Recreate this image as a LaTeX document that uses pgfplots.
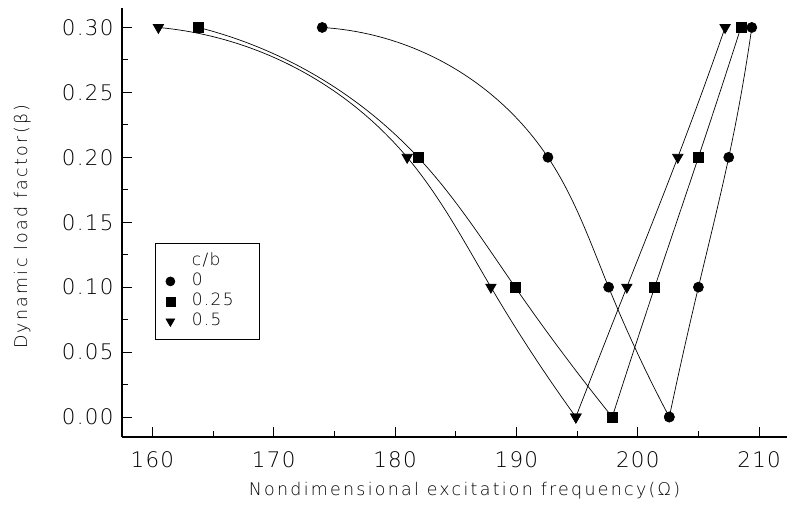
\documentclass[border=0pt]{standalone}
\usepackage{pgfplots}
\pgfplotsset{compat=1.18}
\usetikzlibrary{hobby}
\usepackage{fontspec}
\setmainfont{DejaVu Sans}[UprightFont=* ExtraLight, LetterSpace=13]
\newfontfamily\tickfont{DejaVu Sans}[UprightFont=* ExtraLight, LetterSpace=6]
\newfontfamily\legfont{DejaVu Sans}[UprightFont=* ExtraLight, LetterSpace=8]

% Resonance boundaries for three crack ratios c/b
\pgfplotstableread{
x y
174.0 0.30
192.6 0.20
197.6 0.10
202.6 0.00
}\cbzeroL
\pgfplotstableread{
x y
202.6 0.00
205.0 0.10
207.5 0.20
209.4 0.30
}\cbzeroR
\pgfplotstableread{
x y
163.8 0.30
181.9 0.20
189.9 0.10
197.9 0.00
}\cbquarterL
\pgfplotstableread{
x y
197.9 0.00
201.4 0.10
205.0 0.20
208.5 0.30
}\cbquarterR
\pgfplotstableread{
x y
160.5 0.30
181.0 0.20
187.9 0.10
194.9 0.00
}\cbhalfL
\pgfplotstableread{
x y
194.9 0.00
199.1 0.10
203.3 0.20
207.2 0.30
}\cbhalfR

\newcommand\legtext[1]{\makebox[61bp][l]{#1}}

\begin{document}
\begin{tikzpicture}
\useasboundingbox (-122bp,-70bp) rectangle (670bp,437bp);
\begin{axis}[
  scale only axis,
  width=665bp, height=429bp,
  xmin=157.5, xmax=212.3,
  ymin=-0.0154, ymax=0.315,
  axis x line*=bottom, axis y line*=left,
  axis line style={line width=1.3pt},
  xtick={160,170,180,190,200,210},
  ytick={0,0.05,0.10,0.15,0.20,0.25,0.30},
  minor x tick num=1, minor y tick num=1,
  tick align=inside,
  major tick length=10bp, minor tick length=6bp,
  every tick/.style={black, line width=1pt},
  /pgf/number format/assume math mode=true,
  ticklabel style={font=\tickfont\fontsize{21.5}{23}\selectfont},
  xticklabel style={yshift=-11bp, /pgf/number format/.cd, fixed, precision=0},
  yticklabel style={xshift=-5bp, /pgf/number format/.cd, fixed, fixed zerofill, precision=2},
  label style={font=\fontsize{17.5}{20}\selectfont},
  xlabel={Nondimensional excitation frequency(Ω)},
  ylabel={Dynamic load factor(β)},
  xlabel style={at={(axis description cs:0.515,0)}, anchor=base, yshift=-58bp},
  ylabel style={at={(axis description cs:-0.150,0.49)}, anchor=center},
  legend cell align=left,
  legend style={at={(0.0496,0.4522)}, anchor=north west,
    font=\legfont\fontsize{17}{19}\selectfont, draw=black, line width=0.8pt,
    inner xsep=6.5bp, inner ysep=11bp, row sep=6bp,
    nodes={inner xsep=0bp, inner ysep=0bp, text height=11bp, text depth=3bp},
    /tikz/every odd column/.append style={column sep=17bp}},
  every axis plot/.append style={black, line width=0.7pt},
]
\addlegendimage{empty legend}
\addlegendentry{\legtext{c/b}}
\addlegendimage{only marks, mark=*, mark size=4.5bp}
\addlegendentry{\legtext{0}}
\addlegendimage{only marks, mark=square*, mark size=4.5bp}
\addlegendentry{\legtext{0.25}}
\addlegendimage{only marks, mark=triangle*, mark size=5bp, mark options={rotate=180}}
\addlegendentry{\legtext{0.5}}

\addplot[hobby, mark=*, mark size=5bp, forget plot] table {\cbzeroL};
\addplot[hobby, mark=*, mark size=5bp, forget plot] table {\cbzeroR};
\addplot[hobby, mark=square*, mark size=5bp, forget plot] table {\cbquarterL};
\addplot[hobby, mark=square*, mark size=5bp, forget plot] table {\cbquarterR};
\addplot[hobby, mark=triangle*, mark size=6bp, mark options={rotate=180}, forget plot] table {\cbhalfL};
\addplot[hobby, mark=triangle*, mark size=6bp, mark options={rotate=180}, forget plot] table {\cbhalfR};
\end{axis}
\end{tikzpicture}
\end{document}
